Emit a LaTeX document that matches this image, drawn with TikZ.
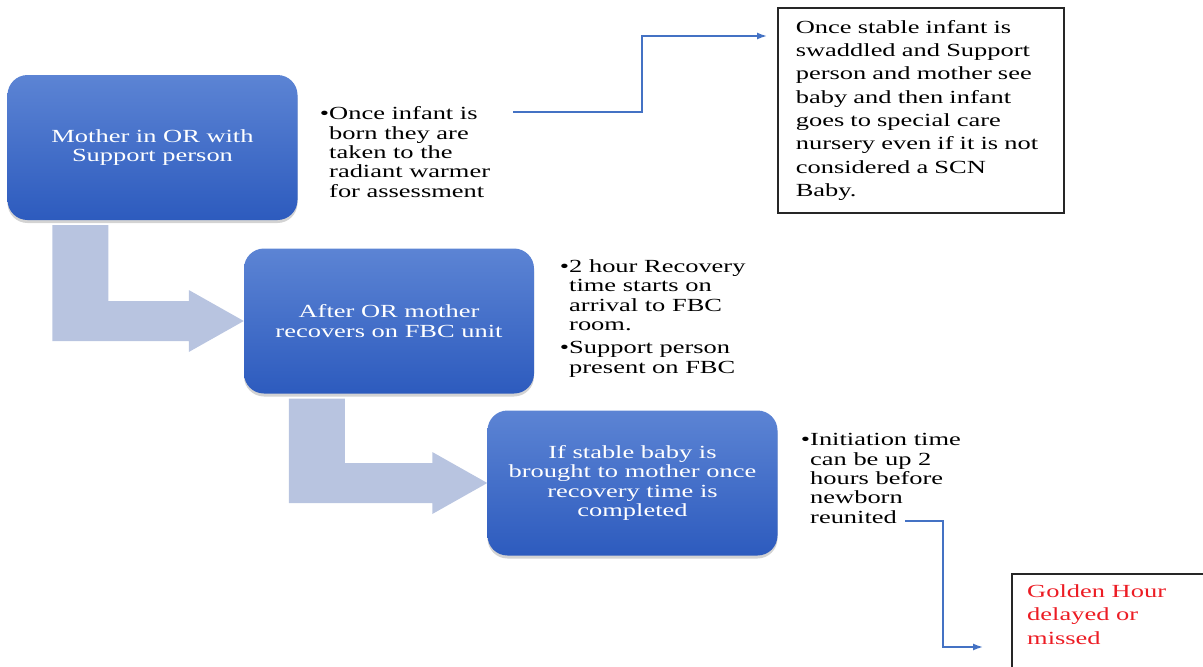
\documentclass[tikz,border=0pt]{standalone}
\usepackage{fontspec}
\setmainfont{Liberation Serif}[FakeStretch=1.43]
\usetikzlibrary{positioning,calc,shadows,arrows.meta}
\definecolor{stagetop}{RGB}{92,132,212}
\definecolor{stagebot}{RGB}{45,91,190}
\definecolor{flowfill}{RGB}{184,196,224}
\definecolor{linkblue}{RGB}{68,114,196}
\definecolor{alertred}{RGB}{236,28,36}
\tikzset{%
  every stage/.style={
    rectangle,
    rounded corners=20pt,
    top color=stagetop,
    bottom color=stagebot,
    drop shadow={shadow xshift=0pt, shadow yshift=-3pt, opacity=0.35},
    text=white,
    align=center,
    minimum width=290pt,
    minimum height=145pt,
    font=\fontsize{18.5}{19.3}\selectfont
  },
  every note/.style={
    draw=black!85,
    line width=1.6pt,
    align=left,
    inner xsep=18pt,
    font=\fontsize{18.5}{23.3}\selectfont
  },
  bullets/.style={
    anchor=base west,
    inner sep=0pt,
    align=left,
    font=\fontsize{18.5}{19.3}\selectfont
  },
  alert text/.style={
    anchor=base west,
    inner sep=0pt,
    align=left,
    text=alertred,
    font=\fontsize{18.5}{23.3}\selectfont
  },
  flow arrow/.style={fill=flowfill},
  link/.style={draw=linkblue, line width=1.5pt, ->},
}
\newcommand{\itm}{\llap{\textbullet}}

\begin{document}
\begin{tikzpicture}[x=1pt, y=-1pt, >={Latex[length=10pt,width=7pt]}]
\useasboundingbox (0,0) rectangle (1203,667);
\clip (0,0) rectangle (1203,667);

\node [every stage/.try] (stage-1) at (152.5,147.5) {Mother in OR with\\Support person};
\node [every stage/.try] (stage-2) at (389,321) {After OR mother\\recovers on FBC unit};
\node [every stage/.try] (stage-3) at (632.5,483) {If stable baby is\\brought to mother once\\recovery time is\\completed};

\foreach \a/\b in {1/2,2/3}
  \fill [flow arrow] let \p1=(stage-\a.south west), \p2=(stage-\b.west) in
    (\x1+45pt,\y1-5pt) -- (\x1+101pt,\y1-5pt) -- (\x1+101pt,\y2+20pt)
    -- (\x2-55pt,\y2+20pt) -- (\x2-55pt,\y2+31pt) -- (\x2,\y2)
    -- (\x2-55pt,\y2-31pt) -- (\x2-55pt,\y2-20pt) -- (\x1+45pt,\y2-20pt) -- cycle;

% base anchor sits on the last line
\node [bullets] (note-1) at (329,197) {\itm Once infant is\\born they are\\taken to the\\radiant warmer\\for assessment};
\node [bullets] (note-2) at (569,373) {\itm 2 hour Recovery\\time starts on\\arrival to FBC\\room.\\[4pt]\itm Support person\\present on FBC};
\node [bullets] (note-3) at (810,523) {\itm Initiation time\\can be up 2\\hours before\\newborn\\reunited};

\node [every note/.try, anchor=north west, text width=250pt, minimum height=205pt] (note-top) at (777,7)
  {Once stable infant is\\swaddled and Support\\person and mother see\\baby and then infant\\goes to special care\\nursery even if it is not\\considered a SCN\\Baby.};

\node [every note/.try, anchor=north west, minimum width=220pt, minimum height=120pt] (gold) at (1011,573) {};
\node [alert text] (gold-text) at (1027,644) {Golden Hour\\delayed or\\missed};

\coordinate (c1) at (513,112);
\coordinate (c2) at (905,521);

\draw [link] (c1) -- ++(129,0) |- ([xshift=-10pt,yshift=-29pt]note-top.north west);
\draw [link] (c2) -- ++(38,0) |- ([xshift=-28pt,yshift=-74pt]gold.north west);

\end{tikzpicture}
\end{document}
